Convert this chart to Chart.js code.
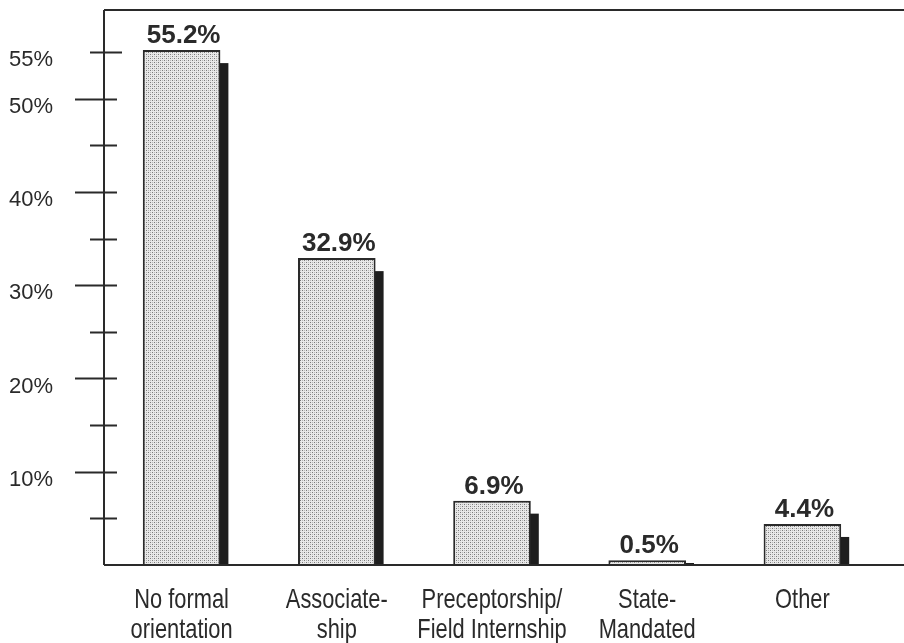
<!DOCTYPE html>
<html>
<head>
<meta charset="utf-8">
<script src="https://cdn.jsdelivr.net/npm/chart.js@4.4.1/dist/chart.umd.min.js"></script>
<style>
  html, body { margin: 0; padding: 0; background: #ffffff; }
  #wrap { width: 904px; height: 643px; position: relative; }
</style>
</head>
<body>
<div id="wrap"><canvas id="chart"></canvas></div>
<script>
// Orientation type and share of respondents (%)
const categories = [
  ['No formal', 'orientation'],
  ['Associate-', 'ship'],
  ['Preceptorship/', 'Field Internship'],
  ['State-', 'Mandated'],
  ['Other']
];
const percentages = [55.2, 32.9, 6.9, 0.5, 4.4];

// Y axis tick marks every 5%, with text on some of them
const tickValues = [0, 5, 10, 15, 20, 25, 30, 35, 40, 45, 50, 55];
const labeledTicks = [10, 20, 30, 40, 50, 55];
const yMax = 59.5;

const INK = '#2a2a2a';

// Stippled light-grey fill for the bars
function makeStipple() {
  const c = document.createElement('canvas');
  c.width = 4; c.height = 4;
  const g = c.getContext('2d');
  g.fillStyle = '#e8e8e8';
  g.fillRect(0, 0, 4, 4);
  g.fillStyle = '#7a7a7a';
  g.fillRect(0, 0, 1, 1);
  g.fillRect(2, 2, 1, 1);
  g.fillStyle = '#b8b8b8';
  g.fillRect(2, 0, 1, 1);
  g.fillRect(0, 2, 1, 1);
  return g.createPattern(c, 'repeat');
}
const stipple = makeStipple();

// Dark drop shadow to the right of every bar
const barShadow = {
  id: 'barShadow',
  beforeDatasetsDraw(chart) {
    const ctx = chart.ctx;
    const meta = chart.getDatasetMeta(0);
    ctx.save();
    ctx.fillStyle = '#1e1e1e';
    meta.data.forEach(bar => {
      const p = bar.getProps(['x', 'y', 'width', 'base'], true);
      const right = p.x + p.width / 2;
      const top = Math.min(p.y + 13, p.base - 2);
      ctx.fillRect(right - 1, top, 9, p.base - top);
    });
    ctx.restore();
  }
};

// Frame: left axis, top rule and baseline, plus tick marks crossing the axis
const frame = {
  id: 'frame',
  afterDatasetsDraw(chart) {
    const ctx = chart.ctx;
    const a = chart.chartArea;
    const y = chart.scales.y;
    const w = chart.width;
    ctx.save();
    ctx.strokeStyle = INK;
    ctx.lineWidth = 2;
    ctx.beginPath();
    ctx.moveTo(a.left, a.top); ctx.lineTo(w, a.top);
    ctx.moveTo(a.left, a.top); ctx.lineTo(a.left, a.bottom);
    ctx.moveTo(a.left, a.bottom); ctx.lineTo(w, a.bottom);
    tickValues.forEach(v => {
      if (v === 0) return;
      const py = Math.round(y.getPixelForValue(v)) + 0.5;
      const major = labeledTicks.includes(v) && v !== 55;
      const x0 = a.left - (major ? 29 : 14);
      const x1 = a.left + (v === 55 ? 18 : 13);
      ctx.moveTo(x0, py); ctx.lineTo(x1, py);
    });
    ctx.stroke();
    ctx.restore();
  }
};

// Percentage printed above each bar
const valueLabels = {
  id: 'valueLabels',
  afterDatasetsDraw(chart) {
    const ctx = chart.ctx;
    const meta = chart.getDatasetMeta(0);
    ctx.save();
    ctx.fillStyle = INK;
    ctx.font = 'bold 26px "Liberation Sans", Arial, sans-serif';
    ctx.textAlign = 'center';
    ctx.textBaseline = 'alphabetic';
    meta.data.forEach((bar, i) => {
      const p = bar.getProps(['x', 'y'], true);
      ctx.fillText(percentages[i].toFixed(1) + '%', p.x + 2, p.y - 7);
    });
    ctx.restore();
  }
};

// Category names under the baseline, set in a tall narrow face
const categoryLabels = {
  id: 'categoryLabels',
  afterDraw(chart) {
    const ctx = chart.ctx;
    const x = chart.scales.x;
    const a = chart.chartArea;
    const squeeze = 0.78;
    ctx.save();
    ctx.fillStyle = INK;
    ctx.font = '28px "Liberation Sans", Arial, sans-serif';
    ctx.textAlign = 'center';
    ctx.textBaseline = 'alphabetic';
    categories.forEach((lines, i) => {
      const cx = x.getPixelForTick(i);
      lines.forEach((line, j) => {
        ctx.save();
        ctx.translate(cx, a.bottom + 43 + j * 30);
        ctx.scale(squeeze, 1);
        ctx.fillText(line, 0, 0);
        ctx.restore();
      });
    });
    ctx.restore();
  }
};

new Chart(document.getElementById('chart'), {
  type: 'bar',
  data: {
    labels: categories,
    datasets: [{
      data: percentages,
      backgroundColor: stipple,
      borderColor: INK,
      borderWidth: 2,
      borderSkipped: 'bottom',
      categoryPercentage: 1.0,
      barPercentage: 0.5
    }]
  },
  options: {
    responsive: true,
    maintainAspectRatio: false,
    animation: false,
    devicePixelRatio: 1,
    layout: { padding: { top: 10, right: 24, left: 0, bottom: 0 } },
    plugins: {
      legend: { display: false },
      tooltip: { enabled: false },
      title: { display: false }
    },
    scales: {
      x: {
        grid: { display: false, drawTicks: false },
        border: { display: false },
        ticks: { display: false },
        afterFit(scale) {
          scale.height = 78;
          scale.paddingLeft = 0;
          scale.paddingRight = 0;
        }
      },
      y: {
        min: 0,
        max: yMax,
        grid: { display: false, drawTicks: false },
        border: { display: false },
        afterBuildTicks(scale) {
          scale.ticks = tickValues.map(v => ({ value: v }));
        },
        ticks: {
          color: INK,
          padding: 51,
          labelOffset: 8,
          font: { family: '"Liberation Sans", Arial, sans-serif', size: 22 },
          callback(value) {
            return labeledTicks.includes(value) ? value + '%' : '';
          }
        },
        afterFit(scale) {
          scale.width = 104;
          scale.paddingTop = 0;
          scale.paddingBottom = 0;
        }
      }
    }
  },
  plugins: [barShadow, frame, valueLabels, categoryLabels]
});
</script>
</body>
</html>
